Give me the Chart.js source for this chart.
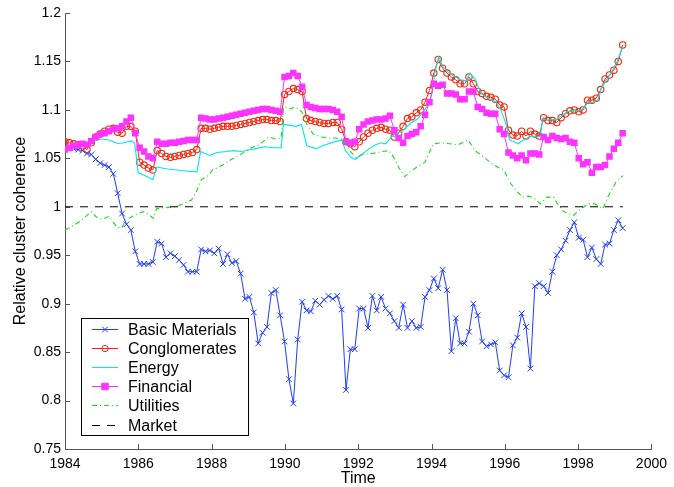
<!DOCTYPE html>
<html>
<head>
<meta charset="utf-8">
<title>Relative cluster coherence</title>
<script src="https://cdn.jsdelivr.net/npm/chart.js@4.4.1/dist/chart.umd.min.js"></script>
<style>
    html, body { margin: 0; padding: 0; background: #fff; }
    #wrap { width: 674px; height: 487px; position: relative; }
</style>
</head>
<body>
<div id="wrap"><canvas id="coherence-chart"></canvas></div>
<script>
// Sampling grid: one window every ~30 trading days, starting Jan 1984
const startYear = 1984.0;
const stepYear = 0.1198;

const xTicks = [1984, 1986, 1988, 1990, 1992, 1994, 1996, 1998, 2000];
const yTicks = [0.75, 0.8, 0.85, 0.9, 0.95, 1, 1.05, 1.1, 1.15, 1.2];

const basicMaterials = [
    1.063, 1.061, 1.060, 1.059, 1.058, 1.055, 1.054, 1.049, 1.045, 1.043,
    1.041, 1.034, 1.014, 0.993, 0.982, 0.976, 0.954, 0.941, 0.941, 0.941,
    0.943, 0.964, 0.962, 0.948, 0.952, 0.949, 0.945, 0.940, 0.933, 0.933,
    0.933, 0.956, 0.954, 0.955, 0.952, 0.957, 0.941, 0.951, 0.942, 0.944,
    0.931, 0.905, 0.907, 0.891, 0.859, 0.870, 0.876, 0.911, 0.914, 0.888,
    0.861, 0.822, 0.797, 0.863, 0.902, 0.893, 0.892, 0.903, 0.899, 0.904,
    0.908, 0.905, 0.908, 0.894, 0.811, 0.853, 0.853, 0.895, 0.895, 0.875,
    0.908, 0.893, 0.907, 0.895, 0.890, 0.882, 0.875, 0.899, 0.875, 0.882,
    0.875, 0.876, 0.907, 0.914, 0.926, 0.916, 0.935, 0.914, 0.851, 0.885,
    0.859, 0.859, 0.871, 0.900, 0.888, 0.861, 0.856, 0.858, 0.860, 0.831,
    0.826, 0.824, 0.857, 0.865, 0.890, 0.876, 0.833, 0.918, 0.921, 0.918,
    0.911, 0.933, 0.950, 0.956, 0.965, 0.976, 0.984, 0.968, 0.966, 0.948,
    0.958, 0.946, 0.941, 0.961, 0.962, 0.976, 0.986, 0.978
];

const conglomerates = [
    1.067, 1.066, 1.065, 1.064, 1.063, 1.059, 1.066, 1.072, 1.075, 1.078,
    1.080, 1.081, 1.077, 1.076, 1.083, 1.083, 1.078, 1.046, 1.043, 1.040,
    1.038, 1.058, 1.055, 1.052, 1.051, 1.052, 1.053, 1.054, 1.055, 1.056,
    1.059, 1.081, 1.081, 1.080, 1.081, 1.082, 1.083, 1.083, 1.083, 1.084,
    1.085, 1.086, 1.087, 1.088, 1.089, 1.090, 1.090, 1.089, 1.089, 1.088,
    1.116, 1.119, 1.122, 1.121, 1.119, 1.091, 1.089, 1.088, 1.087, 1.086,
    1.086, 1.087, 1.087, 1.080, 1.067, 1.065, 1.062, 1.067, 1.072, 1.076,
    1.079, 1.081, 1.082, 1.080, 1.079, 1.072, 1.076, 1.083, 1.091, 1.093,
    1.097, 1.100, 1.108, 1.120, 1.138, 1.152, 1.143, 1.138, 1.134, 1.131,
    1.127, 1.127, 1.134, 1.127, 1.119, 1.117, 1.114, 1.113, 1.111, 1.105,
    1.103, 1.079, 1.074, 1.073, 1.078, 1.073, 1.078, 1.075, 1.073, 1.092,
    1.089, 1.089, 1.087, 1.092, 1.096, 1.099, 1.100, 1.098, 1.100, 1.110,
    1.110, 1.112, 1.121, 1.132, 1.136, 1.141, 1.150, 1.167
];

const financial = [
    1.059, 1.061, 1.063, 1.064, 1.065, 1.064, 1.068, 1.072, 1.075, 1.076,
    1.078, 1.080, 1.081, 1.083, 1.088, 1.092, 1.076, 1.061, 1.057, 1.052,
    1.050, 1.067, 1.065, 1.065, 1.066, 1.066, 1.067, 1.068, 1.069, 1.069,
    1.069, 1.092, 1.091, 1.090, 1.090, 1.091, 1.092, 1.093, 1.094, 1.095,
    1.096, 1.097, 1.098, 1.099, 1.100, 1.101, 1.101, 1.100, 1.099, 1.098,
    1.134, 1.135, 1.138, 1.135, 1.124, 1.105, 1.103, 1.102, 1.101, 1.101,
    1.101, 1.100, 1.098, 1.093, 1.067, 1.066, 1.067, 1.080, 1.085, 1.088,
    1.089, 1.090, 1.090, 1.091, 1.094, 1.079, 1.071, 1.066, 1.073, 1.075,
    1.077, 1.083, 1.095, 1.108, 1.127, 1.125, 1.126, 1.117, 1.117, 1.116,
    1.111, 1.111, 1.119, 1.119, 1.103, 1.101, 1.097, 1.096, 1.096, 1.080,
    1.075, 1.056, 1.053, 1.050, 1.053, 1.048, 1.055, 1.055, 1.054, 1.072,
    1.069, 1.073, 1.071, 1.070, 1.071, 1.067, 1.066, 1.050, 1.044, 1.046,
    1.035, 1.041, 1.041, 1.043, 1.052, 1.060, 1.066, 1.076
];

// Energy and Utilities are drawn as plain lines, read at their turning points
const energyTimes = [
    1984.0, 1984.5, 1984.75, 1985.0, 1985.2, 1985.45, 1985.6, 1985.8, 1985.9, 1986.0,
    1986.25, 1986.4, 1986.5, 1986.8, 1987.3, 1987.6, 1987.7, 1987.95, 1988.15, 1988.4,
    1988.6, 1988.8, 1988.95, 1989.2, 1989.45, 1989.7, 1989.9, 1989.96, 1990.15, 1990.3,
    1990.45, 1990.6, 1990.85, 1991.1, 1991.35, 1991.55, 1991.65, 1991.8, 1991.92, 1992.1,
    1992.3, 1992.48, 1992.61, 1992.75, 1992.84, 1992.97, 1993.2, 1993.45, 1993.6, 1993.75,
    1993.9, 1994.0, 1994.1, 1994.2, 1994.3, 1994.45, 1994.65, 1994.8, 1994.95, 1995.05,
    1995.2, 1995.35, 1995.55, 1995.76, 1995.89, 1996.03, 1996.13, 1996.25, 1996.37, 1996.5,
    1996.61, 1996.74, 1996.88, 1996.97, 1997.03, 1997.15, 1997.28, 1997.42, 1997.55, 1997.7,
    1997.82, 1997.95, 1998.09, 1998.18, 1998.27, 1998.4, 1998.54, 1998.63, 1998.77, 1998.9,
    1999.04, 1999.22
];
const energyValues = [
    1.062, 1.064, 1.068, 1.070, 1.069, 1.065, 1.066, 1.068, 1.066, 1.035,
    1.031, 1.028, 1.041, 1.039, 1.037, 1.036, 1.057, 1.053, 1.056, 1.057,
    1.058, 1.057, 1.058, 1.060, 1.062, 1.061, 1.061, 1.085, 1.084, 1.083,
    1.085, 1.063, 1.060, 1.064, 1.067, 1.069, 1.058, 1.051, 1.049, 1.054,
    1.060, 1.064, 1.066, 1.065, 1.069, 1.074, 1.078, 1.087, 1.090, 1.097,
    1.105, 1.115, 1.140, 1.155, 1.145, 1.139, 1.134, 1.131, 1.130, 1.138,
    1.131, 1.117, 1.112, 1.108, 1.100, 1.086, 1.069, 1.067, 1.065, 1.069,
    1.071, 1.073, 1.072, 1.073, 1.091, 1.089, 1.090, 1.090, 1.094, 1.098,
    1.099, 1.099, 1.100, 1.103, 1.108, 1.108, 1.110, 1.122, 1.131, 1.138,
    1.148, 1.165
];

const utilitiesTimes = [
    1984.0, 1984.2, 1984.45, 1984.71, 1984.84, 1985.0, 1985.2, 1985.42, 1985.55, 1985.65,
    1985.83, 1986.0, 1986.14, 1986.28, 1986.41, 1986.5, 1986.73, 1987.0, 1987.22, 1987.45,
    1987.58, 1987.72, 1987.9, 1988.03, 1988.3, 1988.5, 1988.75, 1989.02, 1989.3, 1989.56,
    1989.75, 1989.9, 1989.96, 1990.15, 1990.28, 1990.46, 1990.6, 1990.77, 1991.0, 1991.17,
    1991.4, 1991.62, 1991.76, 1991.94, 1992.1, 1992.39, 1992.66, 1992.84, 1992.97, 1993.1,
    1993.27, 1993.42, 1993.6, 1993.82, 1994.05, 1994.27, 1994.5, 1994.72, 1994.99, 1995.22,
    1995.44, 1995.62, 1995.85, 1995.98, 1996.12, 1996.3, 1996.48, 1996.65, 1996.8, 1996.97,
    1997.15, 1997.33, 1997.42, 1997.6, 1997.87, 1998.05, 1998.27, 1998.45, 1998.68, 1998.81,
    1999.04, 1999.22
];
const utilitiesValues = [
    0.976, 0.980, 0.986, 0.995, 0.990, 0.987, 0.990, 0.979, 0.978, 0.986,
    0.990, 0.993, 0.995, 0.992, 0.988, 0.998, 0.999, 1.000, 1.003, 1.007,
    1.015, 1.028, 1.032, 1.038, 1.043, 1.048, 1.053, 1.060, 1.064, 1.072,
    1.070, 1.071, 1.103, 1.101, 1.103, 1.098, 1.085, 1.075, 1.072, 1.071,
    1.071, 1.069, 1.058, 1.051, 1.054, 1.055, 1.057, 1.058, 1.051, 1.041,
    1.031, 1.036, 1.041, 1.046, 1.065, 1.066, 1.065, 1.064, 1.069, 1.057,
    1.051, 1.045, 1.040, 1.038, 1.026, 1.017, 1.010, 1.011, 1.009, 1.003,
    1.010, 1.010, 1.004, 0.995, 0.991, 0.997, 1.003, 1.003, 0.998, 1.010,
    1.026, 1.032
];

const marketTimes = [1984.0, 1999.22];
const marketValues = [1, 1];

const FONT = "'Liberation Sans', Arial, Helvetica, sans-serif";
const AXIS_COLOR = '#555';

// helpers to pair times with values
const sampleTimes = basicMaterials.map((_, i) => startYear + i * stepYear);
const onGrid = values => values.map((v, i) => ({ x: sampleTimes[i], y: v }));
const pairUp = (times, values) => times.map((t, i) => ({ x: t, y: values[i] }));

// MATLAB style inward tick marks
const inwardTicks = {
    id: 'inwardTicks',
    beforeDatasetsDraw(chart) {
        const { ctx, chartArea, scales } = chart;
        ctx.save();
        ctx.strokeStyle = AXIS_COLOR;
        ctx.lineWidth = 1;
        ctx.beginPath();
        xTicks.forEach(v => {
            const px = Math.round(scales.x.getPixelForValue(v)) + 0.5;
            ctx.moveTo(px, chartArea.bottom);
            ctx.lineTo(px, chartArea.bottom - 5);
        });
        yTicks.forEach(v => {
            const py = Math.round(scales.y.getPixelForValue(v)) + 0.5;
            ctx.moveTo(chartArea.left, py);
            ctx.lineTo(chartArea.left + 5, py);
        });
        ctx.stroke();
        ctx.restore();
    }
};

// boxed legend in the lower left corner of the axes
const legendBox = {
    id: 'legendBox',
    afterDatasetsDraw(chart) {
        const ctx = chart.ctx;
        const left = 81.5, top = 318.5, width = 167, height = 117;
        ctx.save();
        ctx.fillStyle = '#fff';
        ctx.fillRect(left, top, width, height);
        ctx.strokeStyle = '#000';
        ctx.lineWidth = 1;
        ctx.strokeRect(left, top, width, height);

        chart.data.datasets.forEach((ds, i) => {
            const y = Math.round(329 + i * 19.1) + 0.5;
            ctx.strokeStyle = ds.borderColor;
            ctx.lineWidth = 1;
            ctx.setLineDash(ds.borderDash || []);
            ctx.beginPath();
            ctx.moveTo(92, y);
            ctx.lineTo(118, y);
            ctx.stroke();
            ctx.setLineDash([]);

            if (ds.pointRadius > 0) {
                ctx.fillStyle = ds.pointBackgroundColor;
                ctx.strokeStyle = ds.pointBorderColor;
                Chart.helpers.drawPoint(ctx, {
                    pointStyle: ds.pointStyle,
                    radius: ds.pointRadius,
                    rotation: 0,
                    borderWidth: 1
                }, 105, y);
            }

            ctx.fillStyle = '#000';
            ctx.font = '16px ' + FONT;
            ctx.textAlign = 'left';
            ctx.textBaseline = 'middle';
            ctx.fillText(ds.label, 128, y + 1);
        });
        ctx.restore();
    }
};

document.addEventListener('DOMContentLoaded', () => {
    if (typeof Chart === 'undefined') {
        console.error('Chart.js did not load');
        return;
    }
    Chart.defaults.font.family = FONT;
    Chart.defaults.font.size = 14;
    Chart.defaults.color = '#000';

    const canvas = document.getElementById('coherence-chart');
    new Chart(canvas, {
        type: 'line',
        data: {
            datasets: [
                {
                    label: 'Basic Materials',
                    data: onGrid(basicMaterials),
                    borderColor: '#1f3cff',
                    borderWidth: 1,
                    pointStyle: 'crossRot',
                    pointRadius: 4,
                    pointBorderColor: '#1f3cff',
                    pointBackgroundColor: '#1f3cff',
                    pointBorderWidth: 1,
                    order: 6
                },
                {
                    label: 'Conglomerates',
                    data: onGrid(conglomerates),
                    borderColor: '#f5280f',
                    borderWidth: 1,
                    pointStyle: 'circle',
                    pointRadius: 3.2,
                    pointBorderColor: '#f5280f',
                    pointBackgroundColor: 'rgba(0,0,0,0)',
                    pointBorderWidth: 1.1,
                    order: 5
                },
                {
                    label: 'Energy',
                    data: pairUp(energyTimes, energyValues),
                    borderColor: '#00e8f2',
                    borderWidth: 1.1,
                    pointRadius: 0,
                    order: 4
                },
                {
                    label: 'Financial',
                    data: onGrid(financial),
                    borderColor: '#ff33ff',
                    borderWidth: 1,
                    pointStyle: 'rect',
                    pointRadius: 4.6,
                    pointBorderColor: '#ff33ff',
                    pointBackgroundColor: '#ff33ff',
                    pointBorderWidth: 0,
                    order: 3
                },
                {
                    label: 'Utilities',
                    data: pairUp(utilitiesTimes, utilitiesValues),
                    borderColor: '#18dd18',
                    borderWidth: 1.1,
                    borderDash: [5, 3, 1, 3],
                    pointRadius: 0,
                    order: 2
                },
                {
                    label: 'Market',
                    data: pairUp(marketTimes, marketValues),
                    borderColor: '#000',
                    borderWidth: 1,
                    borderDash: [8, 7],
                    pointRadius: 0,
                    order: 1
                }
            ]
        },
        options: {
            responsive: true,
            maintainAspectRatio: false,
            animation: false,
            events: [],
            layout: { padding: { top: 13, right: 15, left: 0, bottom: 0 } },
            plugins: {
                legend: { display: false },
                tooltip: { enabled: false }
            },
            elements: { line: { tension: 0 } },
            scales: {
                x: {
                    type: 'linear',
                    min: xTicks[0],
                    max: xTicks[xTicks.length - 1],
                    afterFit: scale => { scale.height = 38; },
                    afterBuildTicks: scale => { scale.ticks = xTicks.map(v => ({ value: v })); },
                    grid: { display: false, drawTicks: false },
                    border: { display: true, color: AXIS_COLOR, width: 1 },
                    ticks: { padding: 7, maxRotation: 0, callback: v => String(v) },
                    title: {
                        display: true,
                        text: 'Time',
                        font: { size: 16 },
                        padding: { top: 0, bottom: -1 }
                    }
                },
                y: {
                    min: yTicks[0],
                    max: yTicks[yTicks.length - 1],
                    afterFit: scale => { scale.width = 65; },
                    afterBuildTicks: scale => { scale.ticks = yTicks.map(v => ({ value: v })); },
                    grid: { display: false, drawTicks: false },
                    border: { display: true, color: AXIS_COLOR, width: 1 },
                    ticks: { padding: 4, callback: v => String(Number(v.toFixed(2))) },
                    title: {
                        display: true,
                        text: 'Relative cluster coherence',
                        font: { size: 16 },
                        padding: { top: 11, bottom: 0 }
                    }
                }
            }
        },
        plugins: [inwardTicks, legendBox]
    });
});
</script>
</body>
</html>
